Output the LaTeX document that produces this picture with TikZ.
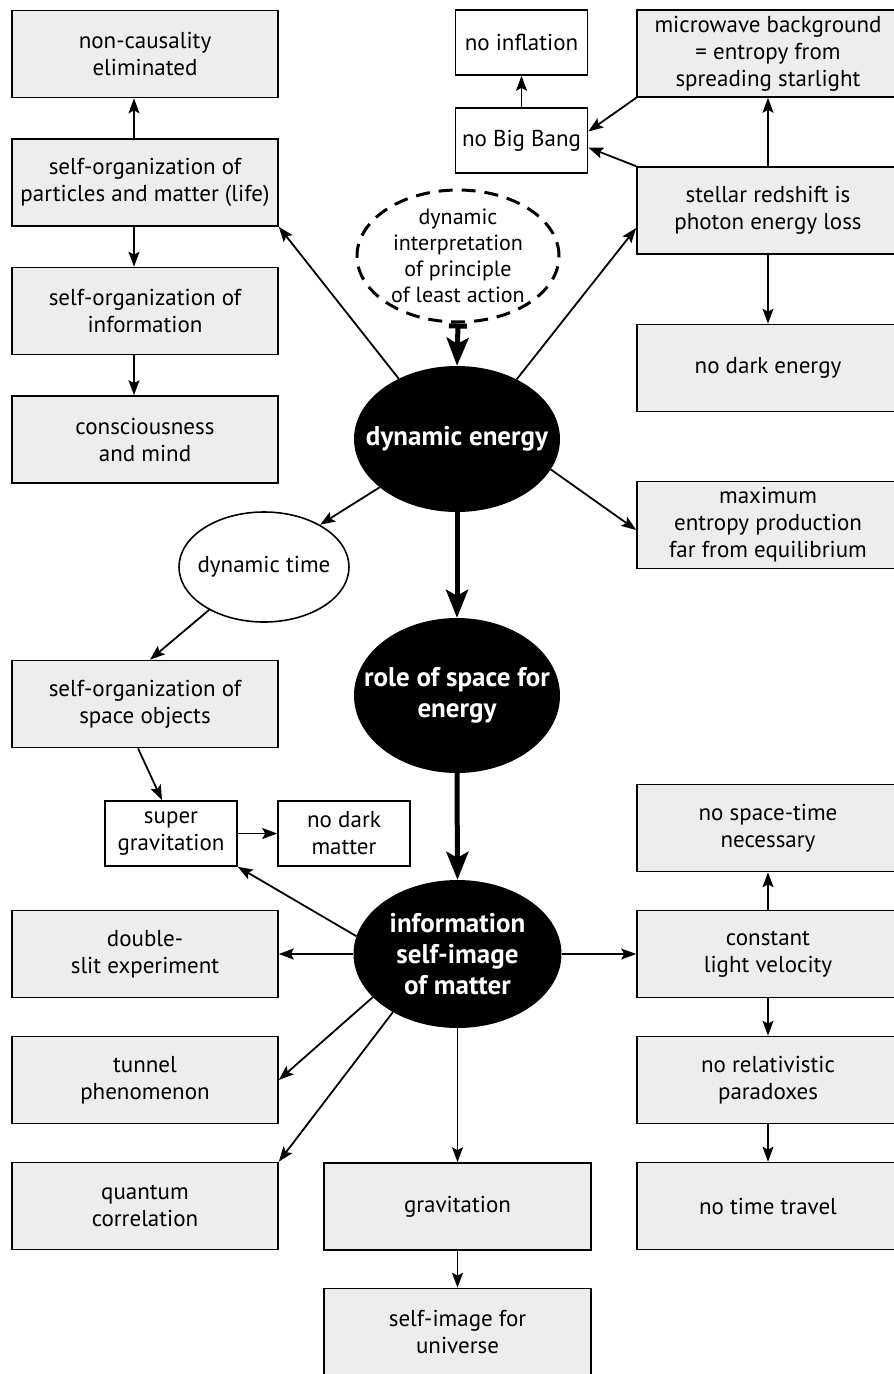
\documentclass[tikz,border=0pt]{standalone}
\usepackage{fontspec}
\setmainfont{PT Sans}
\usetikzlibrary{shapes.geometric,arrows.meta,calc}
\definecolor{boxgray}{HTML}{EDEDED}
\begin{document}
\begin{tikzpicture}[x=1pt,y=-1pt,
  txt/.style={align=center,font=\fontsize{23}{27}\selectfont},
  gbox/.style={txt,draw=black,line width=1.6pt,fill=boxgray,inner sep=0pt,minimum height=87pt},
  lbox/.style={gbox,minimum width=266pt},
  rbox/.style={gbox,minimum width=262pt},
  cbox/.style={gbox,minimum width=267pt},
  wbox/.style={txt,draw=black,line width=1.6pt,fill=white,inner sep=0pt,minimum width=132pt,minimum height=65pt},
  bell/.style={ellipse,fill=black,text=white,align=center,font=\bfseries\fontsize{27}{31}\selectfont,inner xsep=-40pt,inner ysep=-8pt},
  dashell/.style={ellipse,draw=black,line width=3pt,dash pattern=on 14pt off 9pt,txt,font=\fontsize{22}{26}\selectfont,inner xsep=-12pt,inner ysep=-14pt,minimum width=202pt,minimum height=132pt},
  wellipse/.style={ellipse,draw=black,line width=1.6pt,fill=white,txt,inner xsep=-20pt,inner ysep=0pt,minimum width=170pt,minimum height=110pt},
  arr/.style={-{Stealth[length=15pt,width=11pt,inset=3pt]},line width=1.8pt},
  tarr/.style={-{Stealth[length=28pt,width=22pt,inset=6pt]},line width=5pt},
  tarrbar/.style={{Bar[width=18pt]}-{Stealth[length=28pt,width=22pt,inset=6pt]},line width=5pt}
]
\useasboundingbox (0,0) rectangle (894,1374);
\clip (0,0) rectangle (894,1374);

% left column
\node[lbox] (nc) at (145,54) {non-causality\\eliminated};
\node[lbox] (sop) at (145,182.5) {self-organization of\\particles and matter (life)};
\node[lbox] (soi) at (145,311) {self-organization of\\information};
\node[lbox] (cm) at (145,439.5) {consciousness\\and mind};
\node[lbox] (sos) at (145,704) {self-organization of\\space objects};
\node[lbox] (ds) at (145,954) {double-\\slit experiment};
\node[lbox] (tp) at (145,1080) {tunnel\\phenomenon};
\node[lbox] (qc) at (145,1206) {quantum\\correlation};

% right column
\node[rbox] (mw) at (768,53.5) {microwave background\\= entropy from\\spreading starlight};
\node[rbox] (sr) at (768,210.5) {stellar redshift is\\photon energy loss};
\node[rbox] (nde) at (768,368) {no dark energy};
\node[rbox] (me) at (768,525) {maximum\\entropy production\\far from equilibrium};
\node[rbox] (nst) at (768,828) {no space-time\\necessary};
\node[rbox] (clv) at (768,954) {constant\\light velocity};
\node[rbox] (nrp) at (768,1080) {no relativistic\\paradoxes};
\node[rbox] (ntt) at (768,1206) {no time travel};

% centre column boxes
\node[cbox] (gr) at (457.5,1206.5) {gravitation};
\node[cbox] (siu) at (457.5,1332) {self-image for\\universe};

% white boxes
\node[wbox] (ni) at (521.5,42.5) {no inflation};
\node[wbox] (nbb) at (521.5,140.5) {no Big Bang};
\node[wbox] (sg) at (171,833.5) {super\\gravitation};
\node[wbox] (ndm) at (344,833.5) {no dark\\matter};

% ellipses
\node[dashell] (dip) at (458,256) {dynamic\\interpretation\\of principle\\of least action};
\node[bell,minimum width=206pt,minimum height=146pt] (de) at (457,439) {dynamic energy};
\node[bell,minimum width=206pt,minimum height=155pt] (rs) at (457,695.5) {role of space for\\energy};
\node[bell,minimum width=208pt,minimum height=148pt] (inf) at (457.5,954) {information\\self-image\\of matter};
\node[wellipse] (dt) at (264,567) {dynamic time};

% connectors
\draw[arr] ($(sop.north)+(-11,0)$) -- ($(nc.south)+(-11,0)$);
\draw[arr] ($(sop.south)+(-11,0)$) -- ($(soi.north)+(-11,0)$);
\draw[arr] ($(soi.south)+(-11,0)$) -- ($(cm.north)+(-11,0)$);
\draw[arr] (de.134) -- (sop.south east);
\draw[arr] (de.45) -- ($(sr.west)+(0,17.5)$);
\draw[arr] (sr.north) -- (mw.south);
\draw[arr] (sr.north west) -- ($(nbb.east)+(0,7)$);
\draw[arr] (mw.south west) -- ($(nbb.east)+(0,-9)$);
\draw[arr] (nbb.north) -- (ni.south);
\draw[arr] (sr.south) -- (nde.north);
\draw[arr] (de.-18) -- ($(me.west)+(0,5)$);
\draw[arr] (de.212) -- (dt.37);
\draw[arr] (dt.218) -- ($(sos.north)+(5,0)$);
\draw[arr] ($(sos.south)+(-7,0)$) -- ($(sg.north)+(-9,0)$);
\draw[arr] (sg.east) -- (ndm.west);
\draw[arr] (inf.170) -- (sg.south east);
\draw[arr] (inf.west) -- (ds.east);
\draw[arr] (inf.207) -- (tp.east);
\draw[arr] (inf.222) -- (qc.north east);
\draw[arr] (inf.south) -- (gr.north);
\draw[arr] (gr.south) -- (siu.north);
\draw[arr] (inf.east) -- (clv.west);
\draw[arr] (clv.north) -- (nst.south);
\draw[arr] (clv.south) -- (nrp.north);
\draw[arr] (nrp.south) -- (ntt.north);
\draw[tarrbar] (dip.south) -- (de.north);
\draw[tarr] (de.south) -- (rs.north);
\draw[tarr] (rs.south) -- (inf.north);
\end{tikzpicture}
\end{document}
